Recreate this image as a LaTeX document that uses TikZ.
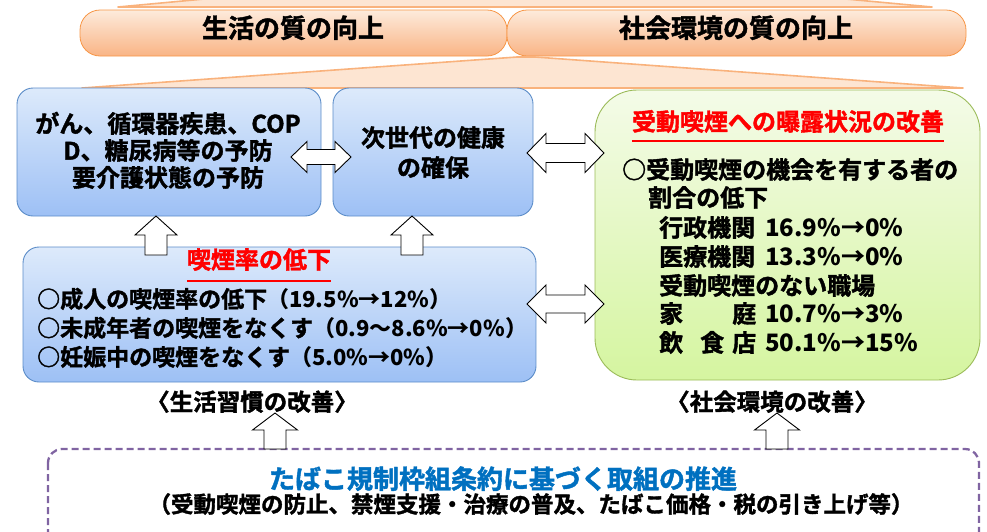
\documentclass[tikz,border=0pt]{standalone}
\usepackage{fontspec}
\setmainfont{Noto Sans CJK JP}[BoldFont={Noto Sans CJK JP Bold},BoldFeatures={FakeBold=1.6}]
\newfontfamily\numf{Noto Sans CJK JP Bold}
\definecolor{peach}{HTML}{FDE5D2}
\definecolor{peachline}{HTML}{F9B27C}
\definecolor{pilltop}{HTML}{FDEBDC}
\definecolor{pillbot}{HTML}{F9B485}
\definecolor{pillline}{HTML}{F79646}
\definecolor{bluetop}{HTML}{DDEAFB}
\definecolor{bluebot}{HTML}{9DC0F5}
\definecolor{blueline}{HTML}{5B8CC8}
\definecolor{greentop}{HTML}{F4FBE8}
\definecolor{greenbot}{HTML}{D5F5A0}
\definecolor{greenline}{HTML}{9BBB59}
\definecolor{purp}{HTML}{8064A2}
\definecolor{jred}{HTML}{FF0000}
\definecolor{jblue}{HTML}{0070C0}
\newcommand{\dbarr}[6]{%
 \draw[blockarrow] (#1,#3) -- ({#1+#6},{#3-#4}) -- ({#1+#6},{#3-#5}) -- ({#2-#6},{#3-#5}) -- ({#2-#6},{#3-#4}) -- (#2,#3) -- ({#2-#6},{#3+#4}) -- ({#2-#6},{#3+#5}) -- ({#1+#6},{#3+#5}) -- ({#1+#6},{#3+#4}) -- cycle;}
\newcommand{\uparr}[6]{%
 \draw[blockarrow] (#1,#2) -- ({#1+#4},#3) -- ({#1+#5},#3) -- ({#1+#5},#6) -- ({#1-#5},#6) -- ({#1-#5},#3) -- ({#1-#4},#3) -- cycle;}
\begin{document}
\begin{tikzpicture}[x=1pt,y=-1pt,
  trap/.style={fill=peach,draw=peachline,line width=1.6pt,line join=round},
  pill/.style={top color=pilltop,bottom color=pillbot,draw=pillline,line width=0.8pt,rounded corners=20pt},
  bluebox/.style={top color=bluetop,bottom color=bluebot,draw=blueline,line width=0.9pt,rounded corners=16pt},
  greenbox/.style={top color=greentop,bottom color=greenbot,draw=greenline,line width=0.9pt,rounded corners=42pt},
  dashbox/.style={draw=purp,line width=2.3pt,dash pattern=on 7pt off 4pt,rounded corners=14pt},
  blockarrow/.style={fill=white,draw=black,line width=0.9pt,line join=miter},
  txt/.style={inner sep=0pt,text height=0.86em,text depth=0.14em,font=\fontsize{#1}{#1}\selectfont\bfseries},
  txt/.default=24,
  ul/.style={line width=1.4pt,jred}]
\useasboundingbox (0,0) rectangle (987,531);
% top trapezoid fragment
\path[trap] (118,7) -- (215,-2) -- (835,-2) -- (932,7) -- cycle;
% pills
\path[pill] (80,10) rectangle (507,56);
\path[pill] (507,10) rectangle (966,56);
\node[txt=26] (p1) at (293,34) {生活の質の向上};
\node[txt=26] (p2) at (736,34) {社会環境の質の向上};
% lower trapezoid
\path[trap] (82,88) -- (517,57) -- (535,57) -- (963,88) -- cycle;
% boxes
\path[bluebox] (17,88) rectangle (321,216);
\path[bluebox] (333,88) rectangle (533,216);
\path[bluebox] (23,247) rectangle (536,382);
\path[greenbox] (595,90) rectangle (980,380);
% box 1 text
\node[txt] (b1a) at (168,129) {がん、循環器疾患、COP};
\node[txt] (b1b) at (168,156) {D、糖尿病等の予防};
\node[txt] (b1c) at (168,183) {要介護状態の予防};
% box 2 text
\node[txt] (b2a) at (433,143) {次世代の健康};
\node[txt] (b2b) at (433,173) {の確保};
% green box text
\node[txt,text=jred] (gt) at (788,127) {受動喫煙への曝露状況の改善};
\draw[ul] (gt.west |- 0,141) -- (gt.east |- 0,141);
\node[txt,anchor=west] (g1) at (622,175) {○受動喫煙の機会を有する者の};
\node[txt,anchor=west] (g2) at (648,203) {割合の低下};
\node[txt,anchor=west] (g3) at (659,233) {行政機関};
\node[txt,anchor=west] (g3n) at (765,233) {\numf 16.9\%→0\%};
\node[txt,anchor=west] (g4) at (659,262) {医療機関};
\node[txt,anchor=west] (g4n) at (765,262) {\numf 13.3\%→0\%};
\node[txt,anchor=west] (g5) at (659,291) {受動喫煙のない職場};
\node[txt,anchor=west] (g6a) at (659,319) {家};
\node[txt,anchor=west] (g6b) at (732,319) {庭};
\node[txt,anchor=west] (g6n) at (765,319) {\numf 10.7\%→3\%};
\node[txt,anchor=west] (g7a) at (659,348) {飲};
\node[txt,anchor=west] (g7b) at (700,348) {食};
\node[txt,anchor=west] (g7c) at (732,348) {店};
\node[txt,anchor=west] (g7n) at (765,348) {\numf 50.1\%→15\%};
% box 3 text
\node[txt,text=jred] (b3t) at (259,265) {喫煙率の低下};
\draw[ul] (b3t.west |- 0,281) -- (b3t.east |- 0,281);
\node[txt=23,anchor=west] (b3a) at (37,304) {○成人の喫煙率の低下{\numf\fontsize{22}{22}\selectfont（19.5\%→12\%）}};
\node[txt=23,anchor=west] (b3b) at (37,333) {○未成年者の喫煙をなくす{\numf\fontsize{22}{22}\selectfont（0.9～8.6\%→0\%）}};
\node[txt=23,anchor=west] (b3c) at (37,362) {○妊娠中の喫煙をなくす{\numf\fontsize{22}{22}\selectfont（5.0\%→0\%）}};
% dashed box
\path[dashbox] (48,449) rectangle (979,545);
% block arrows
\dbarr{291}{351}{157}{15.5}{7.5}{16}
\dbarr{527}{604}{153}{19.5}{9.5}{19}
\dbarr{527}{604}{304}{19}{9}{19}
\uparr{156}{216}{235}{21}{11}{255}
\uparr{412}{216}{235}{21}{11}{255}
\uparr{275}{413}{430}{22.5}{11}{449}
\uparr{777}{413}{430}{22.5}{11}{449}
% labels
\node[txt=23.5] (l1) at (252,407) {〈生活習慣の改善〉};
\node[txt=23.5] (l2) at (772,407) {〈社会環境の改善〉};
\node[txt=26,text=jblue] (bt) at (503,485) {たばこ規制枠組条約に基づく取組の推進};
\node[txt=22.5] (bs) at (531,509) {（受動喫煙の防止、禁煙支援・治療の普及、たばこ価格・税の引き上げ等）};
\end{tikzpicture}
\end{document}
